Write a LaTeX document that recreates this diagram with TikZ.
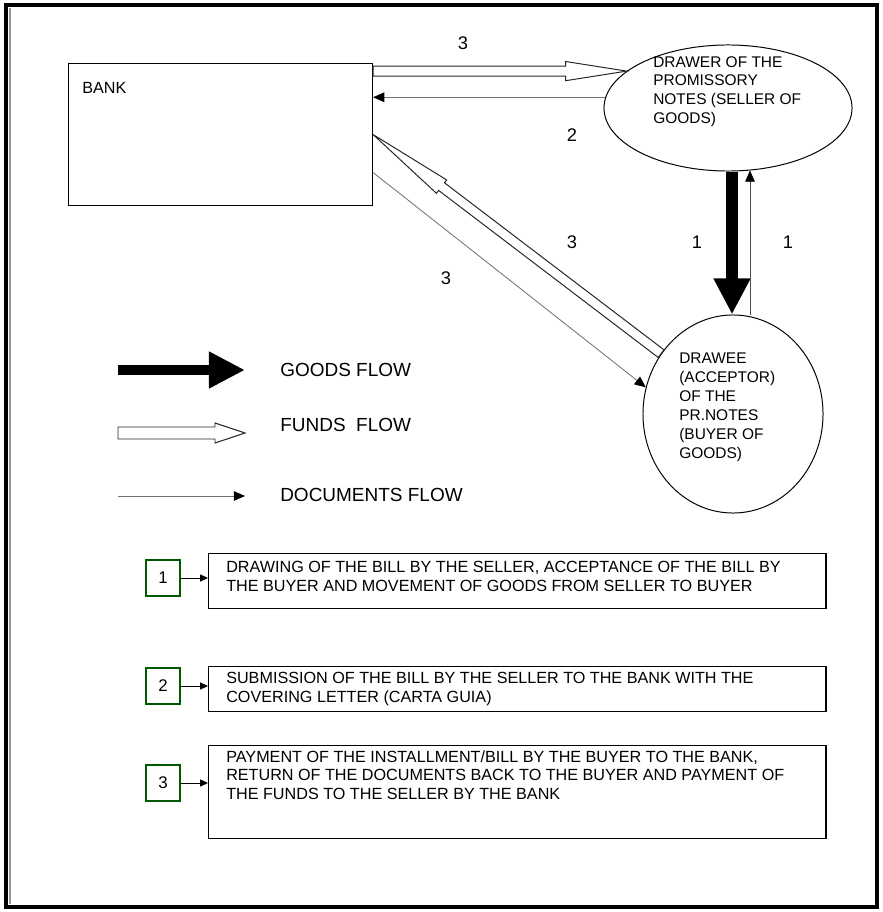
\documentclass[tikz,border=0pt]{standalone}
\usepackage{fontspec}
\setmainfont{Liberation Sans}
\usetikzlibrary{shapes.geometric,arrows.meta,calc}

\tikzset{
  party/.style={draw, ellipse, line width=0.7pt, inner sep=0},
  partytext/.style={align=left, inner sep=0, anchor=north west, font=\fontsize{11}{13.4}\selectfont},
  flowno/.style={font=\fontsize{13}{15}\selectfont},
  goods/.style={line width=0.28cm, -{Triangle[length=0.9cm, width=0.86cm]}},
  docs/.style={draw=black!55, line width=0.6pt, -{Triangle[length=0.28cm, width=0.24cm, color=black]}},
  legendtext/.style={anchor=west, inner sep=0, font=\fontsize{13.5}{16}\selectfont},
  stepno/.style={draw=green!35!black, line width=0.8pt, minimum width=0.85cm, minimum height=0.9cm, inner sep=0, font=\fontsize{12}{14}\selectfont},
  notebox/.style={draw, line width=1pt, minimum width=15.425cm, anchor=north west, inner sep=0},
  notetext/.style={align=left, inner sep=0, anchor=north west, font=\fontsize{11.5}{13.4}\selectfont},
  link/.style={line width=0.6pt, -{Triangle[length=0.2cm, width=0.18cm]}}
}

% hollow arrow: from, to, half shaft, head length, half head
\newcommand{\fundsflow}[5]{%
  \coordinate (fb) at ($(#2)!#4!(#1)$);
  \draw[draw=black!85, fill=white, line width=0.7pt]
    ($(#1)!#3!90:(#2)$) -- ($(fb)!#3!90:(#2)$) -- ($(fb)!#5!90:(#2)$) -- (#2)
    -- ($(fb)!#5!-90:(#2)$) -- ($(fb)!#3!-90:(#2)$) -- ($(#1)!#3!-90:(#2)$) -- cycle;
}

\begin{document}
\begin{tikzpicture}[x=0.025cm, y=-0.025cm]
  \useasboundingbox (0,0) rectangle (882,912);
  % frame
  \draw[line width=2.2pt] (6,5) rectangle (877,907);
  \draw[black!40, line width=0.8pt] (10,8) -- (10,904);

  % parties
  \node[draw, line width=0.7pt, minimum width=7.6cm, minimum height=3.55cm, anchor=north west, inner sep=0] (bank) at (68,63) {};
  \node[anchor=west, inner sep=0, font=\fontsize{11.5}{14}\selectfont] (banktext) at (82,88) {BANK};
  \node[party, minimum width=6.2cm, minimum height=3.15cm] (drawer) at (728,108) {};
  \node[partytext] (drawertext) at (653,56) {DRAWER OF THE\\PROMISSORY\\NOTES (SELLER OF\\GOODS)};
  \node[party, minimum width=4.5cm, minimum height=4.95cm] (drawee) at (733,414) {};
  \node[partytext] (draweetext) at (679,353) {DRAWEE\\(ACCEPTOR)\\OF THE\\PR.NOTES\\(BUYER OF\\GOODS)};

  % flows
  \coordinate (topa) at (drawer.160 -| bank.east);
  \fundsflow{topa}{drawer.160}{0.125cm}{1.525cm}{0.24cm}
  \draw[docs] (drawer.175) -- (drawer.175 -| bank.east);
  \fundsflow{drawee.140}{bank.east}{0.12cm}{2.15cm}{0.21cm}
  \draw[docs] (bank.-14) -- (drawee.163);
  \draw[goods] ($(drawer.south)+(4,0)$) -- ($(drawee.north)+(-1,0)$);
  \draw[docs, draw=black!70] ($(drawee.north)+(17,1)$) -- ($(drawer.south)+(22,-1)$);

  \node[flowno] (n3top) at (463,43) {3};
  \node[flowno] (n2) at (572,135) {2};
  \node[flowno] (n3mid) at (572,242) {3};
  \node[flowno] (n3low) at (446,278) {3};
  \node[flowno] (n1l) at (697,242) {1};
  \node[flowno] (n1r) at (788,242) {1};

  % legend
  \coordinate (lga) at (118,370); \coordinate (lgb) at (245,370);
  \draw[goods, line width=0.26cm] (lga) -- (lgb);
  \node[legendtext] (lgtext) at (280,370) {GOODS FLOW};
  \coordinate (lfa) at (118,433); \coordinate (lfb) at (245,433);
  \fundsflow{lfa}{lfb}{0.15cm}{0.75cm}{0.25cm}
  \node[legendtext] (lftext) at (280,425) {FUNDS\ \ FLOW};
  \coordinate (lda) at (118,496); \coordinate (ldb) at (245,496);
  \draw[docs] (lda) -- (ldb);
  \node[legendtext] (ldtext) at (280,495) {DOCUMENTS FLOW};

  % steps
  \node[notebox, minimum height=1.375cm] (box1) at (208,553) {};
  \node[notetext] (text1) at ($(box1.north west)+(18,8)$) {DRAWING OF THE BILL BY THE SELLER, ACCEPTANCE OF THE BILL BY\\THE BUYER AND MOVEMENT OF GOODS FROM SELLER TO BUYER};
  \node[stepno] (no1) at (163,578) {1};
  \draw[link] (no1) -- (no1 -| box1.west);

  \node[notebox, minimum height=1.125cm] (box2) at (208,666) {};
  \node[notetext] (text2) at ($(box2.north west)+(18,6)$) {SUBMISSION OF THE BILL BY THE SELLER TO THE BANK WITH THE\\COVERING LETTER (CARTA GUIA)};
  \node[stepno] (no2) at (163,686) {2};
  \draw[link] (no2) -- (no2 -| box2.west);

  \node[notebox, minimum height=2.325cm] (box3) at (208,745) {};
  \node[notetext] (text3) at ($(box3.north west)+(18,5)$) {PAYMENT OF THE INSTALLMENT/BILL BY THE BUYER TO THE BANK,\\RETURN OF THE DOCUMENTS BACK TO THE BUYER AND PAYMENT OF\\THE FUNDS TO THE SELLER BY THE BANK};
  \node[stepno] (no3) at (163,783) {3};
  \draw[link] (no3) -- (no3 -| box3.west);
\end{tikzpicture}
\end{document}
